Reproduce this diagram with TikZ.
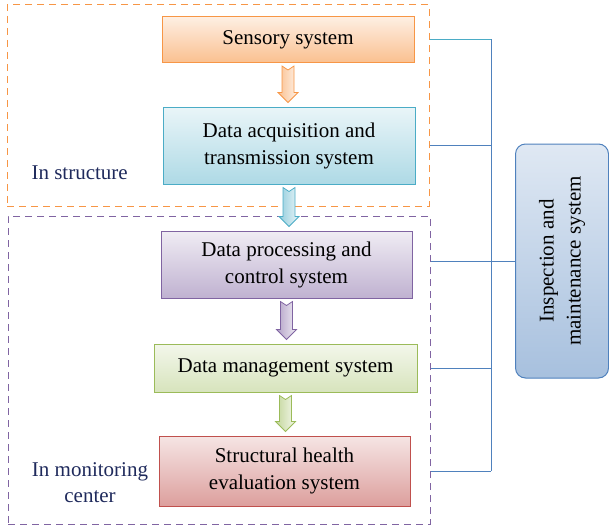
\documentclass[tikz,border=0pt]{standalone}
\usepackage{fontspec}
\setmainfont{Liberation Serif}
\usetikzlibrary{calc,positioning}

\definecolor{orng}{HTML}{F79646}
\definecolor{cyn}{HTML}{4BACC6}
\definecolor{prp}{HTML}{8064A2}
\definecolor{grn}{HTML}{9BBB59}
\definecolor{rd}{HTML}{C0504D}
\definecolor{blu}{HTML}{4F81BD}
\definecolor{navy}{HTML}{1F2A5C}

\begin{document}
\begin{tikzpicture}[x=1pt,y=-1pt,line join=miter,
  sysbox/.style={draw,line width=1pt,inner sep=0pt,align=center,font=\fontsize{21}{27}\selectfont},
  group/.style={draw=#1,dash pattern=on 7pt off 5pt,line width=1pt,inner sep=0pt},
  place/.style={text=navy,align=center,font=\fontsize{21}{26}\selectfont},
  link/.style={draw=blu,line width=1pt}]
  \useasboundingbox (0,0) rectangle (609,527);

  % the two places
  \node[group=orng,minimum width=422,minimum height=201] (instr) at (218,105.5) {};
  \node[group=prp,minimum width=422,minimum height=308] (mon) at (219,370) {};
  \node[place,anchor=west] (lstr) at (28,173) {In structure};
  \node[place] (lmon) at (90,483) {In monitoring\\center};

  % systems
  \node[sysbox,draw=orng,top color=orng!15,bottom color=orng!60,minimum width=252,minimum height=46] (sens) at (288,39.5) {Sensory system};
  \node[sysbox,draw=cyn,top color=cyn!12,bottom color=cyn!45,minimum width=252,minimum height=77] (acq) at (289,145.5) {Data acquisition and\\transmission system};
  \node[sysbox,draw=prp,top color=prp!12,bottom color=prp!50,minimum width=251,minimum height=67] (proc) at (286.5,264.5) {Data processing and\\control system};
  \node[sysbox,draw=grn,top color=grn!12,bottom color=grn!40,minimum width=263,minimum height=48] (mgmt) at (285.5,368) {Data management system};
  \node[sysbox,draw=rd,top color=rd!15,bottom color=rd!55,minimum width=251,minimum height=70] (eval) at (284.5,471) {Structural health\\evaluation system};
  \node[sysbox,rounded corners=10pt,draw=blu,top color=blu!18,bottom color=blu!50,minimum width=234,minimum height=93,rotate=90] (insp) at (562,261) {Inspection and\\maintenance system};

  % block arrows
  \foreach \a/\b/\col in {sens/acq/orng,acq/proc/cyn,proc/mgmt/prp,mgmt/eval/grn}
    \draw[draw=\col,line width=0.8pt,left color=\col!60,right color=\col!12]
      ($(\a.south)+(-6,3)$) -- ($(\a.south)+(0,7)$) -- ($(\a.south)+(6,3)$)
      -- ($(\a.south |- \b.north)+(6,-14)$) -- ($(\a.south |- \b.north)+(10,-14)$)
      -- ($(\a.south |- \b.north)+(0,-4)$) -- ($(\a.south |- \b.north)+(-10,-14)$)
      -- ($(\a.south |- \b.north)+(-6,-14)$) -- cycle;

  % links to inspection
  \coordinate (bus) at (491,0);
  \draw[link,draw=cyn] (sens.east -| instr.east) -- (sens.east -| bus);
  \foreach \n/\g in {acq/instr,mgmt/mon,eval/mon}
    \draw[link] (\n.east -| \g.east) -- (\n.east -| bus);
  \draw[link] (mon.east |- insp.north) -- (insp.north);
  \draw[link] (sens.east -| bus) -- (eval.east -| bus);
\end{tikzpicture}
\end{document}
